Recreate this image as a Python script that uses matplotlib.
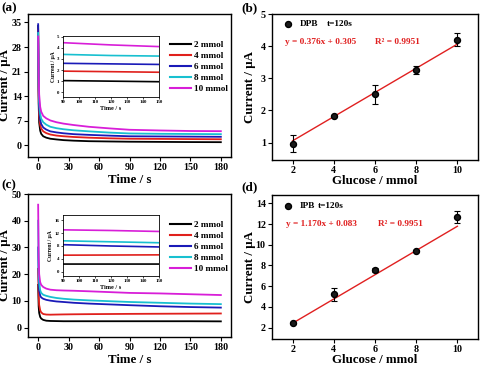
import matplotlib
matplotlib.use("Agg")
import matplotlib.pyplot as plt
from matplotlib.lines import Line2D
import numpy as np

plt.rcParams['font.family'] = ['Liberation Serif', 'DejaVu Serif']
plt.rcParams['font.weight'] = 'bold'
plt.rcParams['axes.labelweight'] = 'bold'

# ---------------- data ----------------
labels = ['2 mmol', '4 mmol', '6 mmol', '8 mmol', '10 mmol']
colors = ['#000000', '#e0201c', '#1a1ab8', '#18c0d0', '#d81ed8']

time_s = [0, 0.5, 1, 2, 3, 5, 8, 12, 18, 25, 35, 50, 70, 90, 120, 150, 180]

dpb_2 = [34, 12, 6.5, 4.2, 3.3, 2.6, 2.2, 1.9, 1.7, 1.5, 1.35, 1.2, 1.12, 1.05, 1.0, 0.95, 0.92]
dpb_4 = [33, 14, 8.5, 5.8, 4.8, 4.0, 3.5, 3.1, 2.8, 2.6, 2.4, 2.2, 2.02, 1.9, 1.85, 1.8, 1.75]
dpb_6 = [34.5, 16, 10.5, 7.3, 6.1, 5.1, 4.5, 4.0, 3.7, 3.45, 3.2, 3.0, 2.78, 2.6, 2.55, 2.5, 2.45]
dpb_8 = [32, 18, 12.5, 9, 7.6, 6.6, 5.9, 5.3, 4.9, 4.6, 4.3, 4.0, 3.65, 3.4, 3.3, 3.25, 3.2]
dpb_10 = [31, 20, 14.5, 11, 9.6, 8.4, 7.7, 7.1, 6.6, 6.2, 5.8, 5.3, 4.85, 4.45, 4.25, 4.1, 4.05]

ipb_2 = [16, 8, 5.5, 4, 3.4, 2.9, 2.6, 2.5, 2.45, 2.4, 2.4, 2.4, 2.4, 2.4, 2.4, 2.4, 2.35]
ipb_4 = [22, 12, 8.5, 6.5, 5.7, 5.1, 4.9, 4.85, 4.9, 4.95, 5.0, 5.05, 5.1, 5.15, 5.2, 5.25, 5.3]
ipb_6 = [30, 18, 14, 12, 11.3, 10.8, 10.4, 10.1, 9.8, 9.6, 9.3, 9.0, 8.7, 8.4, 8.0, 7.7, 7.5]
ipb_8 = [40, 22, 17, 14, 13, 12.3, 11.9, 11.5, 11.1, 10.8, 10.5, 10.2, 9.9, 9.6, 9.3, 9.0, 8.8]
ipb_10 = [46, 26, 20, 17, 16, 15.2, 14.6, 14.2, 14.0, 13.9, 13.8, 13.6, 13.3, 13.0, 12.8, 12.5, 12.2]

glucose = [2, 4, 6, 8, 10]
dpb_cur = [0.97, 1.82, 2.5, 3.25, 4.2]
dpb_err = [0.27, 0.03, 0.3, 0.12, 0.2]
dpb_slope, dpb_icpt = 0.376, 0.305
ipb_cur = [2.4, 5.2, 7.55, 9.35, 12.7]
ipb_err = [0.1, 0.6, 0.2, 0.1, 0.6]
ipb_slope, ipb_icpt = 1.170, 0.083

W, H = 480, 365
fig = plt.figure(figsize=(W / 100, H / 100), dpi=100)

LABEL_FS = 9.3
TICK_FS = 7.2


def rect(l, t, r, b):
    return [l / W, 1 - b / H, (r - l) / W, (b - t) / H]


def style(ax, fs=TICK_FS, lw=1.0, tl=3):
    for s in ax.spines.values():
        s.set_linewidth(lw)
    ax.tick_params(direction='out', length=tl, width=0.8, labelsize=fs,
                   top=False, right=False, pad=1.5)
    for lab in ax.get_xticklabels() + ax.get_yticklabels():
        lab.set_fontweight('bold')


def ylabel_at(ax, ax_rect, right_px):
    l, t, r, b = ax_rect
    ax.yaxis.set_label_coords((right_px - l) / (r - l), 0.5)


def transient(ax_rect, inset_rect, series, ylim, yticks, iylim, iyticks, legend_top):
    ax = fig.add_axes(rect(*ax_rect))
    for ys, c, lb in zip(series, colors, labels):
        ax.plot(time_s, ys, color=c, lw=1.3, label=lb)
    ax.set_xlim(-10, 190)
    ax.set_ylim(*ylim)
    ax.set_xticks([0, 30, 60, 90, 120, 150, 180])
    ax.set_yticks(yticks)
    ax.set_xlabel('Time / s', fontsize=LABEL_FS, labelpad=1)
    ax.set_ylabel('Current / μA', fontsize=LABEL_FS)
    ylabel_at(ax, ax_rect, 11.5)
    style(ax)
    leg = ax.legend(loc='upper left', bbox_to_anchor=(170 / W, 1 - legend_top / H),
                    bbox_transform=fig.transFigure, frameon=False,
                    prop={'family': 'Liberation Serif', 'weight': 'bold', 'size': 6.6},
                    handlelength=2.3, handletextpad=0.35, labelspacing=0.28,
                    borderpad=0, borderaxespad=0)
    for ln in leg.get_lines():
        ln.set_linewidth(1.5)

    ia = fig.add_axes(rect(*inset_rect))
    for ys, c in zip(series, colors):
        ia.plot(time_s, ys, color=c, lw=1.2)
    ia.set_xlim(90, 150)
    ia.set_ylim(*iylim)
    ia.set_xticks([90, 100, 110, 120, 130, 140, 150])
    ia.set_yticks(iyticks)
    ia.set_xlabel('Time / s', fontsize=4.5, labelpad=1)
    ia.set_ylabel('Current / μA', fontsize=4, labelpad=1)
    for s in ia.spines.values():
        s.set_linewidth(0.6)
    ia.tick_params(direction='out', length=1.5, width=0.5, labelsize=3.5, pad=1,
                   top=False, right=False)
    return ax


transient((28, 14, 231, 157), (63, 36, 159, 97),
          [dpb_2, dpb_4, dpb_6, dpb_8, dpb_10],
          (-3.3, 37.4), [0, 7, 14, 21, 28, 35],
          (-0.42, 5.05), [0, 1, 2, 3, 4, 5], 41)
transient((28, 194, 231, 337), (63, 215, 159, 276),
          [ipb_2, ipb_4, ipb_6, ipb_8, ipb_10],
          (-3.5, 50), [0, 10, 20, 30, 40, 50],
          (-1.3, 17.6), [0, 4, 8, 12, 16], 221)


def calib(ax_rect, cur, err, slope, icpt, ylim, yticks):
    ax = fig.add_axes(rect(*ax_rect))
    xs = np.array([glucose[0], glucose[-1]])
    ax.plot(xs, slope * xs + icpt, color='#e02020', lw=1.0, zorder=2)
    ax.errorbar(glucose, cur, yerr=err, fmt='o', color='black', ms=4.3,
                mfc='#1a1a1a', mec='black', ecolor='black', elinewidth=0.8,
                capsize=2, capthick=0.8, zorder=3)
    ax.set_xlim(1, 11)
    ax.set_ylim(*ylim)
    ax.set_xticks([2, 4, 6, 8, 10])
    ax.set_yticks(yticks)
    ax.set_xlabel('Glucose / mmol', fontsize=LABEL_FS, labelpad=0)
    ax.set_ylabel('Current / μA', fontsize=LABEL_FS)
    ylabel_at(ax, ax_rect, 255.5)
    style(ax)
    return ax


axb = calib((272, 14, 478, 160), dpb_cur, dpb_err, dpb_slope, dpb_icpt,
            (0.46, 5.0), [1, 2, 3, 4, 5])
axd = calib((272, 195, 478, 339), ipb_cur, ipb_err, ipb_slope, ipb_icpt,
            (0.9, 14.8), [2, 4, 6, 8, 10, 12, 14])


def ftext(x, y, s, **kw):
    fig.text(x / W, 1 - y / H, s, **kw)


def fmarker(x, y):
    fig.add_artist(Line2D([x / W], [1 - y / H], marker='o', ms=4.3,
                          mfc='#1a1a1a', mec='black', color='black',
                          transform=fig.transFigure))


fs_ann = 6.7
fmarker(288, 24)
ftext(300, 24, 'DPB', fontsize=fs_ann, fontweight='bold', va='center')
ftext(327, 24, 't=120s', fontsize=fs_ann, fontweight='bold', va='center')
ftext(285, 42, 'y = 0.376x + 0.305', fontsize=fs_ann, fontweight='bold', va='center', color='#e02020')
ftext(375, 42, 'R² = 0.9951', fontsize=fs_ann, fontweight='bold', va='center', color='#e02020')

fmarker(288, 206)
ftext(300, 206, 'IPB', fontsize=fs_ann, fontweight='bold', va='center')
ftext(318, 206, 't=120s', fontsize=fs_ann, fontweight='bold', va='center')
ftext(286, 224, 'y = 1.170x + 0.083', fontsize=fs_ann, fontweight='bold', va='center', color='#e02020')
ftext(378, 224, 'R² = 0.9951', fontsize=fs_ann, fontweight='bold', va='center', color='#e02020')

ftext(1, 8, '(a)', fontsize=9.5, fontweight='bold', va='center')
ftext(241, 8, '(b)', fontsize=9.5, fontweight='bold', va='center')
ftext(1, 185, '(c)', fontsize=9.5, fontweight='bold', va='center')
ftext(241, 187, '(d)', fontsize=9.5, fontweight='bold', va='center')

fig.savefig('out.png', dpi=100)
